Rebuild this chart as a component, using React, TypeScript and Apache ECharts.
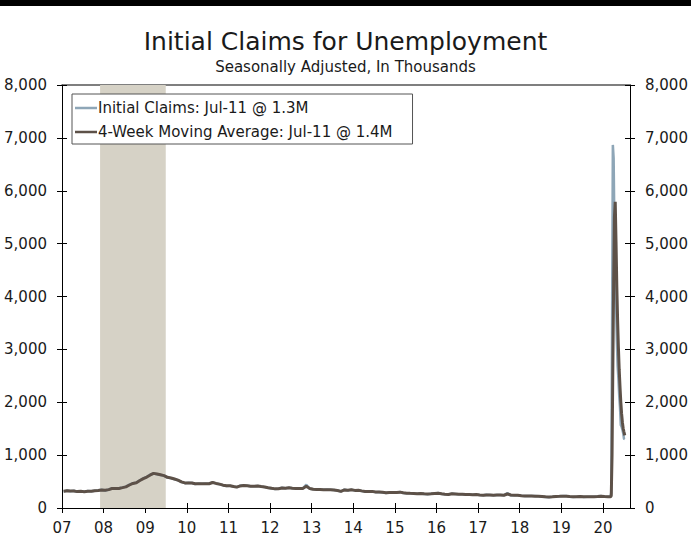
import React, { useEffect, useRef } from "react";
import * as echarts from "echarts";

const TITLE = "Initial Claims for Unemployment";
const SUBTITLE = "Seasonally Adjusted, In Thousands";
const CLAIMS_NAME = "Initial Claims: Jul-11 @ 1.3M";
const AVG_NAME = "4-Week Moving Average: Jul-11 @ 1.4M";

// Monthly readings (thousands), Jan 2007 .. Feb 2020 (mid-month)
const monthlyStartYear = 2007;
const monthlyClaims = [
  310, 330, 318, 325, 305, 318, 305, 322, 315, 328, 335, 345,
  328, 350, 372, 365, 372, 388, 405, 442, 470, 480, 525, 560,
  590, 635, 650, 640, 625, 612, 575, 565, 545, 525, 490, 470,
  478, 472, 455, 462, 458, 462, 458, 488, 462, 450, 430, 418,
  422, 400, 395, 425, 428, 420, 412, 410, 418, 405, 395, 382,
  370, 360, 365, 382, 375, 385, 372, 370, 368, 372, 440, 365,
  355, 350, 350, 345, 348, 345, 340, 330, 312, 350, 332, 348,
  332, 338, 322, 312, 310, 315, 300, 302, 295, 285, 295, 292,
  295, 302, 285, 280, 276, 276, 268, 276, 266, 262, 270, 275,
  282, 266, 260, 255, 272, 266, 260, 262, 254, 256, 250, 255,
  246, 240, 250, 245, 240, 245, 245, 240, 285, 235, 240, 240,
  230, 225, 225, 225, 225, 220, 215, 210, 205, 212, 220, 220,
  225, 225, 215, 210, 215, 220, 210, 215, 215, 215, 220, 225,
  215, 212,
];
const monthlyAvg = [
  315, 325, 320, 322, 310, 315, 308, 318, 315, 325, 333, 342,
  335, 348, 368, 367, 370, 385, 400, 435, 465, 478, 520, 555,
  585, 625, 655, 642, 628, 612, 580, 568, 548, 528, 495, 475,
  475, 472, 458, 460, 458, 460, 458, 482, 465, 452, 432, 420,
  420, 405, 395, 418, 425, 420, 413, 410, 415, 405, 396, 384,
  372, 362, 364, 378, 375, 382, 373, 370, 368, 370, 410, 370,
  356, 350, 350, 346, 347, 345, 341, 331, 315, 342, 335, 345,
  333, 336, 324, 314, 311, 314, 302, 301, 296, 287, 293, 292,
  295, 300, 288, 281, 277, 276, 270, 274, 268, 263, 268, 274,
  280, 268, 261, 256, 268, 266, 261, 261, 255, 256, 251, 254,
  247, 241, 248, 245, 241, 244, 245, 241, 265, 245, 240, 240,
  232, 226, 225, 225, 224, 220, 216, 211, 207, 211, 218, 220,
  223, 224, 217, 211, 214, 219, 212, 214, 214, 215, 219, 223,
  216, 212,
];

// Weekly readings, 2020
const weeklyDates = [
  "2020-03-07", "2020-03-14", "2020-03-21", "2020-03-28", "2020-04-04",
  "2020-04-11", "2020-04-18", "2020-04-25", "2020-05-02", "2020-05-09",
  "2020-05-16", "2020-05-23", "2020-05-30", "2020-06-06", "2020-06-13",
  "2020-06-20", "2020-06-27", "2020-07-04", "2020-07-11",
];
const weeklyClaims = [
  215, 282, 3307, 6867, 6615, 5237, 4442, 3867, 3176, 2687,
  2446, 2126, 1897, 1566, 1540, 1482, 1413, 1310, 1300,
];
const weeklyAvg = [
  212, 232, 998, 2665, 4265, 5506, 5790, 5033, 4177, 3546,
  3036, 2611, 2290, 2009, 1783, 1624, 1504, 1437, 1375,
];

const recessionStart = "2007-12-01";
const recessionEnd = "2009-06-30";

const xMin = 2007;
const xMax = 2020.65;
const yMax = 8000;
const yStep = 1000;

function decYear(s: string): number {
  const [y, m, d] = s.split("-").map(Number);
  const t = Date.UTC(y, m - 1, d);
  const a = Date.UTC(y, 0, 1);
  const b = Date.UTC(y + 1, 0, 1);
  return y + (t - a) / (b - a);
}

function monthDate(i: number): string {
  const y = monthlyStartYear + Math.floor(i / 12);
  const m = (i % 12) + 1;
  return `${y}-${String(m).padStart(2, "0")}-15`;
}

function buildSeries(monthly: number[], weekly: number[]): number[][] {
  const out: number[][] = monthly.map((v, i) => [decYear(monthDate(i)), v]);
  weekly.forEach((v, i) => out.push([decYear(weeklyDates[i]), v]));
  return out;
}

const FONT = "DejaVu Sans";
const TEXT = "#1a1a1a";

export default function App() {
  const ref = useRef<HTMLDivElement>(null);
  useEffect(() => {
    document.body.style.margin = "0";
    const chart = echarts.init(ref.current!, null, { renderer: "svg" });
    const yBase = {
      type: "value" as const,
      min: 0,
      max: yMax,
      interval: yStep,
      splitLine: { show: false },
    };
    const yLabel = {
      fontFamily: FONT,
      fontSize: 15,
      color: TEXT,
      margin: 15,
      formatter: (v: number) => v.toLocaleString("en-US"),
    };
    const xBase = {
      type: "value" as const,
      min: xMin,
      max: xMax,
      interval: 1,
      splitLine: { show: false },
    };
    chart.setOption({
      animation: false,
      backgroundColor: "#ffffff",
      graphic: [
        { type: "rect", left: 0, top: 0, shape: { x: 0, y: 0, width: 691, height: 6 }, style: { fill: "#000" } },
        {
          type: "text",
          left: "center",
          top: 29,
          style: { text: TITLE, fontFamily: FONT, fontSize: 25, fill: TEXT },
        },
        {
          type: "text",
          left: "center",
          top: 59,
          style: { text: SUBTITLE, fontFamily: FONT, fontSize: 15, fill: TEXT },
        },
      ],
      grid: { left: 62, right: 61, top: 85, bottom: 27, containLabel: false },
      legend: {
        left: 72,
        top: 94,
        orient: "vertical",
        backgroundColor: "#fff",
        borderColor: "#555",
        borderWidth: 1,
        borderRadius: 0,
        padding: [5, 20, 3, 3],
        itemGap: 6,
        itemWidth: 22,
        itemHeight: 2.5,
        icon: "rect",
        textStyle: { fontFamily: FONT, fontSize: 15, color: TEXT, padding: [0, 0, 0, -4], lineHeight: 18 },
        data: [CLAIMS_NAME, AVG_NAME],
      },
      xAxis: [
        {
          ...xBase,
          position: "bottom",
          axisLine: { show: true, onZero: false, lineStyle: { color: "#000", width: 1 } },
          axisTick: { show: true, inside: false, length: 5, lineStyle: { color: "#000" } },
          axisLabel: {
            fontFamily: FONT,
            fontSize: 15,
            color: TEXT,
            margin: 12,
            showMaxLabel: false,
            formatter: (v: number) => String(Math.round(v) % 100).padStart(2, "0"),
          },
        },
        {
          ...xBase,
          position: "bottom",
          axisLine: { show: false },
          axisTick: { show: true, inside: true, length: 5, lineStyle: { color: "#000" } },
          axisLabel: { show: false },
        },
        {
          ...xBase,
          position: "top",
          axisLine: { show: true, onZero: false, lineStyle: { color: "#555", width: 1.5 } },
          axisTick: { show: false },
          axisLabel: { show: false },
        },
      ],
      yAxis: [
        {
          ...yBase,
          position: "left",
          axisLine: { show: true, onZero: false, lineStyle: { color: "#000" } },
          axisTick: { show: true, inside: false, length: 5, lineStyle: { color: "#000" } },
          axisLabel: yLabel,
        },
        {
          ...yBase,
          position: "left",
          axisLine: { show: false },
          axisTick: { show: true, inside: true, length: 5, lineStyle: { color: "#000" } },
          axisLabel: { show: false },
        },
        {
          ...yBase,
          position: "right",
          axisLine: { show: true, onZero: false, lineStyle: { color: "#000" } },
          axisTick: { show: true, inside: false, length: 5, lineStyle: { color: "#000" } },
          axisLabel: yLabel,
        },
        {
          ...yBase,
          position: "right",
          axisLine: { show: false },
          axisTick: { show: true, inside: true, length: 5, lineStyle: { color: "#000" } },
          axisLabel: { show: false },
        },
      ],
      series: [
        {
          name: CLAIMS_NAME,
          type: "line",
          xAxisIndex: 0,
          yAxisIndex: 0,
          symbol: "none",
          color: "#8ea6b7",
          lineStyle: { width: 2.5, color: "#8ea6b7" },
          data: buildSeries(monthlyClaims, weeklyClaims),
          markArea: {
            silent: true,
            itemStyle: { color: "#d6d2c6" },
            data: [[{ xAxis: decYear(recessionStart) }, { xAxis: decYear(recessionEnd) }]],
          },
          z: 2,
        },
        {
          name: AVG_NAME,
          type: "line",
          xAxisIndex: 0,
          yAxisIndex: 0,
          symbol: "none",
          color: "#5d5148",
          lineStyle: { width: 3, color: "#5d5148" },
          data: buildSeries(monthlyAvg, weeklyAvg),
          z: 3,
        },
      ],
    });
    return () => chart.dispose();
  }, []);
  return <div ref={ref} style={{ position: "fixed", left: 0, top: 0, width: 691, height: 535 }} />;
}
